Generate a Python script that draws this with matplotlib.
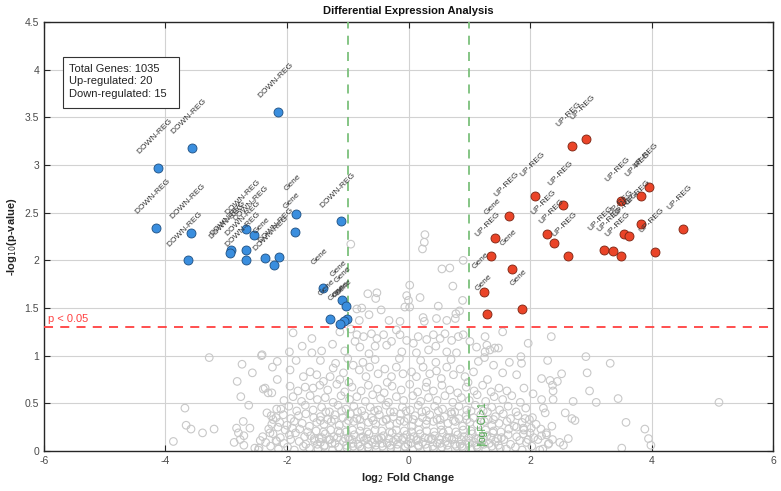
import matplotlib
matplotlib.use("Agg")
import matplotlib.pyplot as plt
from matplotlib.patches import Rectangle

plt.rcParams['font.family'] = ['Liberation Sans', 'DejaVu Sans']

# ---------------- data ----------------
# significant down-regulated (blue) points: (log2FC, -log10 p, label)
down_x = [-2.14, -3.57, -4.12, -4.16, -3.58, -1.85, -1.11, -1.87, -2.68, -2.54,
          -2.92, -2.94, -2.67, -3.63, -2.68, -2.37, -2.13, -2.21, -1.41, -1.10,
          -1.03, -1.30, -1.02, -1.06, -1.13]
down_y = [3.56, 3.18, 2.97, 2.34, 2.29, 2.49, 2.41, 2.30, 2.33, 2.27,
          2.11, 2.08, 2.11, 2.00, 2.00, 2.03, 2.04, 1.95, 1.71, 1.58,
          1.52, 1.38, 1.38, 1.36, 1.33]
down_labels = ["DOWN-REG", "DOWN-REG", "DOWN-REG", "DOWN-REG", "DOWN-REG", "Gene",
               "DOWN-REG", "Gene", "DOWN-REG", "DOWN-REG", "DOWN-REG", "DOWN-REG",
               "DOWN-REG", "DOWN-REG", "DOWN-REG", "Gene", "DOWN-REG", "DOWN-REG",
               "Gene", "Gene", "Gene", "Gene", "Gene", "Gene", "Gene"]

# significant up-regulated (red) points
up_x = [2.92, 2.69, 2.09, 3.96, 3.82, 2.55, 3.49, 1.66, 1.43, 1.35,
        2.28, 2.40, 2.63, 3.21, 3.36, 3.50, 3.55, 3.63, 3.82, 4.52,
        4.06, 1.70, 1.24, 1.29, 1.87]
up_y = [3.27, 3.20, 2.68, 2.77, 2.68, 2.58, 2.62, 2.47, 2.23, 2.05,
        2.28, 2.18, 2.05, 2.11, 2.10, 2.05, 2.28, 2.26, 2.38, 2.33,
        2.09, 1.91, 1.67, 1.44, 1.49]
up_labels = ["UP-REG", "UP-REG", "UP-REG", "UP-REG", "UP-REG", "UP-REG", "UP-REG",
             "UP-REG", "Gene", "UP-REG", "UP-REG", "UP-REG", "UP-REG", "UP-REG",
             "UP-REG", "UP-REG", "UP-REG", "UP-REG", "UP-REG", "UP-REG", "UP-REG",
             "Gene", "Gene", "Gene", "Gene"]

# non-significant genes (grey), by band
ns_high = [(0.27, 2.27), (0.26, 2.19), (0.23, 2.12), (-0.95, 2.17), (0.90, 2.00),
           (0.55, 1.91), (0.68, 1.92), (0.73, 1.73), (0.02, 1.74), (-0.67, 1.65),
           (-0.52, 1.66), (-0.54, 1.60), (-0.03, 1.63), (0.00, 1.58), (-0.06, 1.51),
           (0.02, 1.51), (0.49, 1.52), (0.89, 1.58), (0.84, 1.47), (0.78, 1.44),
           (-0.85, 1.49), (-0.77, 1.50), (-0.45, 1.48), (-0.65, 1.43), (-0.81, 1.37),
           (-0.32, 1.37), (0.24, 1.40), (0.26, 1.36), (0.46, 1.39), (0.63, 1.37),
           (-0.14, 1.36), (0.19, 1.61), (0.77, 1.39)]
ns_b = [(-2.41, 1.01), (-1.96, 1.04), (-1.90, 1.24), (-1.59, 1.18), (-1.59, 1.03),
        (-1.43, 1.05), (-1.13, 1.25), (-0.85, 1.22), (-0.74, 1.20), (-0.88, 1.15),
        (-0.80, 1.09), (-0.61, 1.23), (-0.52, 1.18), (-0.41, 1.22), (-0.55, 1.10),
        (-0.36, 1.11), (-0.28, 1.15), (-0.14, 1.22), (-0.03, 1.16), (0.08, 1.13),
        (0.16, 1.20), (0.30, 1.17), (0.41, 1.22), (0.52, 1.18), (0.60, 1.23),
        (0.71, 1.16), (0.82, 1.20), (0.90, 1.22), (-0.11, 1.04), (0.13, 1.03),
        (0.33, 1.06), (0.63, 1.04), (0.79, 1.03), (1.26, 1.20), (1.29, 1.11),
        (1.34, 1.06), (1.01, 1.15), (1.12, 1.09), (1.42, 1.08), (1.48, 1.08),
        (1.26, 1.04), (2.35, 1.20), (1.97, 1.13), (-1.25, 1.12), (-1.05, 1.05),
        (-0.95, 1.28), (-0.20, 1.27), (0.45, 1.10), (-0.65, 1.02), (1.55, 1.25),
        (-1.75, 1.10)]
ns_c = [(-3.28, 0.98), (-2.42, 1.00), (-2.74, 0.91), (-2.57, 0.82), (-2.82, 0.73),
        (-2.16, 0.94), (-2.24, 0.88), (-2.16, 0.75), (-1.73, 0.78), (-1.62, 0.83),
        (-1.51, 0.80), (-1.40, 0.73), (-1.29, 0.78), (-1.24, 0.87), (-1.13, 0.75),
        (-1.07, 0.82), (-0.91, 0.90), (-0.81, 0.85), (-0.70, 0.78), (-0.64, 0.88),
        (-0.50, 0.81), (-0.39, 0.86), (-0.28, 0.78), (-0.20, 0.88), (-0.09, 0.81),
        (0.05, 0.83), (0.13, 0.78), (0.24, 0.88), (0.35, 0.81), (0.46, 0.84),
        (0.54, 0.76), (0.63, 0.88), (0.74, 0.80), (0.85, 0.86), (0.93, 0.78),
        (1.07, 0.83), (-1.85, 0.95), (-1.45, 0.95), (-1.00, 0.97), (-0.55, 0.96),
        (-0.15, 0.97), (0.20, 0.95), (0.70, 0.96), (1.15, 0.94), (1.40, 0.90),
        (1.55, 0.82), (1.85, 0.99), (1.86, 0.92), (1.66, 0.93), (1.78, 0.80),
        (2.29, 0.95), (2.92, 0.99), (3.32, 0.92), (2.94, 0.82), (2.52, 0.81),
        (2.45, 0.73), (2.33, 0.74), (2.19, 0.76), (-1.95, 0.85), (-0.98, 0.72),
        (-0.35, 0.72), (0.30, 0.72), (0.98, 0.72), (1.30, 0.75), (-1.20, 0.92),
        (0.45, 0.93), (-0.75, 0.93), (1.25, 0.98)]
ns_d = [(-2.36, 0.66), (-2.25, 0.61), (-2.39, 0.65), (-2.31, 0.61), (-2.76, 0.57),
        (-2.63, 0.48), (-3.68, 0.45), (-2.33, 0.40), (-2.26, 0.37), (-2.17, 0.44),
        (-1.70, 0.67), (-1.57, 0.66), (2.37, 0.69), (2.38, 0.63), (2.98, 0.63),
        (3.09, 0.51), (3.45, 0.55), (5.11, 0.51), (2.05, 0.60), (2.19, 0.54),
        (2.38, 0.54), (2.25, 0.40), (2.22, 0.45), (2.71, 0.52), (2.58, 0.40),
        (-1.95, 0.68), (-1.82, 0.63), (-1.46, 0.69), (-1.33, 0.64), (-1.18, 0.70),
        (-1.05, 0.62), (-0.93, 0.67), (-0.78, 0.63), (-0.66, 0.69), (-0.51, 0.65),
        (-0.40, 0.61), (-0.27, 0.68), (-0.12, 0.64), (0.02, 0.70), (0.15, 0.62),
        (0.29, 0.67), (0.41, 0.63), (0.55, 0.69), (0.68, 0.64), (0.81, 0.61),
        (0.95, 0.67), (1.08, 0.63), (1.22, 0.69), (1.36, 0.62), (1.49, 0.66),
        (1.62, 0.63), (1.90, 0.66),
        (-2.05, 0.53), (-1.90, 0.57), (-1.76, 0.52), (-1.62, 0.58), (-1.50, 0.54),
        (-1.37, 0.56), (-1.24, 0.51), (-1.11, 0.58), (-0.97, 0.54), (-0.85, 0.57),
        (-0.71, 0.52), (-0.59, 0.59), (-0.46, 0.55), (-0.33, 0.51), (-0.20, 0.57),
        (-0.08, 0.53), (0.07, 0.58), (0.20, 0.52), (0.33, 0.56), (0.47, 0.53),
        (0.60, 0.58), (0.73, 0.51), (0.87, 0.56), (1.00, 0.53), (1.13, 0.59),
        (1.27, 0.52), (1.41, 0.57), (1.55, 0.54), (1.70, 0.58), (1.84, 0.51),
        (-2.10, 0.44), (-1.97, 0.47), (-1.84, 0.42), (-1.70, 0.48), (-1.57, 0.43),
        (-1.43, 0.46), (-1.30, 0.41), (-1.16, 0.48), (-1.03, 0.44), (-0.90, 0.47),
        (-0.77, 0.42), (-0.63, 0.46), (-0.50, 0.43), (-0.37, 0.48), (-0.24, 0.41),
        (-0.10, 0.46), (0.03, 0.43), (0.16, 0.48), (0.29, 0.42), (0.43, 0.47),
        (0.56, 0.44), (0.70, 0.41), (0.83, 0.47), (0.96, 0.43), (1.10, 0.48),
        (1.23, 0.42), (1.37, 0.46), (1.50, 0.43), (1.64, 0.47), (1.77, 0.41),
        (1.93, 0.45),
        (-1.36, 0.41), (-1.10, 0.42), (-0.84, 0.41), (-0.56, 0.42), (-0.30, 0.41),
        (-0.04, 0.42), (0.22, 0.41), (0.49, 0.42), (0.76, 0.41), (1.03, 0.42),
        (1.30, 0.41)]
ns_e = [(-3.66, 0.27), (-3.58, 0.23), (-3.39, 0.19), (-3.20, 0.23), (-3.87, 0.10),
        (-2.83, 0.24), (-2.80, 0.19), (-2.72, 0.31), (-2.61, 0.24), (-2.71, 0.16),
        (-2.87, 0.09), (-2.77, 0.12), (-2.71, 0.06), (-2.44, 0.11), (-2.53, 0.03),
        (-2.47, 0.01), (-2.23, 0.33), (-2.28, 0.19), (-2.17, 0.10),
        (2.69, 0.34), (2.74, 0.32), (3.58, 0.30), (3.89, 0.23), (3.99, 0.06),
        (3.51, 0.03), (2.36, 0.26), (2.27, 0.19), (2.37, 0.12), (2.49, 0.09),
        (2.63, 0.13), (2.55, 0.06), (2.19, 0.16), (2.30, 0.07), (2.16, 0.01),
        (2.00, 0.19), (1.99, 0.33), (1.92, 0.34), (1.89, 0.24), (1.97, 0.12),
        (3.95, 0.13),
        (-2.18, 0.35), (-2.06, 0.38), (-1.94, 0.34), (-1.81, 0.37), (-1.69, 0.39),
        (-1.56, 0.35), (-1.45, 0.36), (-1.33, 0.33), (-1.21, 0.38), (-1.08, 0.35),
        (-0.96, 0.39), (-0.85, 0.34), (-0.72, 0.37), (-0.61, 0.35), (-0.48, 0.38),
        (-0.37, 0.33), (-0.25, 0.36), (-0.13, 0.39), (-0.01, 0.34), (0.11, 0.37),
        (0.23, 0.35), (0.35, 0.38), (0.47, 0.33), (0.59, 0.36), (0.71, 0.39),
        (0.83, 0.34), (0.95, 0.37), (1.07, 0.35), (1.19, 0.38), (1.31, 0.33),
        (1.43, 0.36), (1.56, 0.39), (1.68, 0.34), (1.80, 0.37), (2.04, 0.35),
        (-2.25, 0.28), (-2.12, 0.30), (-2.00, 0.27), (-1.88, 0.31), (-1.75, 0.29),
        (-1.63, 0.26), (-1.51, 0.30), (-1.39, 0.28), (-1.27, 0.31), (-1.14, 0.27),
        (-1.02, 0.29), (-0.90, 0.31), (-0.78, 0.26), (-0.66, 0.30), (-0.54, 0.28),
        (-0.42, 0.31), (-0.31, 0.27), (-0.19, 0.29), (-0.07, 0.31), (0.05, 0.26),
        (0.17, 0.30), (0.29, 0.28), (0.41, 0.31), (0.53, 0.27), (0.65, 0.29),
        (0.77, 0.31), (0.89, 0.26), (1.01, 0.30), (1.13, 0.28), (1.25, 0.31),
        (1.37, 0.27), (1.49, 0.29), (1.62, 0.31), (1.74, 0.26), (1.87, 0.30),
        (2.10, 0.28),
        (-2.30, 0.23), (-2.15, 0.25), (-2.03, 0.22), (-1.91, 0.24), (-1.79, 0.23),
        (1.65, 0.23), (1.78, 0.25), (1.90, 0.22), (2.02, 0.24), (2.18, 0.23),
        (-1.45, 0.32), (-1.22, 0.33), (-0.99, 0.32), (-0.80, 0.33), (-0.58, 0.32),
        (-0.36, 0.33), (-0.14, 0.32), (0.08, 0.33), (0.30, 0.32), (0.52, 0.33),
        (0.74, 0.32), (0.96, 0.33), (1.18, 0.32), (1.40, 0.33)]
ns_f = [(-2.40, 0.15), (-2.23, 0.18), (-2.11, 0.14), (-1.96, 0.17), (-1.86, 0.19),
        (-1.71, 0.15), (-1.61, 0.16), (-1.47, 0.13), (-1.37, 0.18), (-1.23, 0.15),
        (-1.13, 0.19), (-0.99, 0.14), (-0.89, 0.17), (-0.75, 0.15), (-0.65, 0.18),
        (-0.51, 0.13), (-0.41, 0.16), (-0.27, 0.19), (-0.17, 0.14), (-0.03, 0.17),
        (0.09, 0.15), (0.19, 0.18), (0.33, 0.13), (0.43, 0.16), (0.57, 0.19),
        (0.67, 0.14), (0.81, 0.17), (0.91, 0.15), (1.05, 0.18), (1.15, 0.13),
        (1.29, 0.16), (1.39, 0.19), (1.53, 0.14), (1.64, 0.17), (1.78, 0.15),
        (1.89, 0.18), (2.06, 0.14), (2.27, 0.17),
        (-2.35, 0.09), (-2.18, 0.11), (-2.05, 0.08), (-1.94, 0.12), (-1.80, 0.10),
        (-1.69, 0.07), (-1.55, 0.11), (-1.45, 0.09), (-1.31, 0.12), (-1.21, 0.08),
        (-1.07, 0.10), (-0.97, 0.12), (-0.83, 0.07), (-0.73, 0.11), (-0.59, 0.09),
        (-0.49, 0.12), (-0.35, 0.08), (-0.25, 0.10), (-0.11, 0.12), (-0.01, 0.07),
        (0.13, 0.11), (0.23, 0.09), (0.37, 0.12), (0.47, 0.08), (0.61, 0.10),
        (0.71, 0.12), (0.85, 0.07), (0.95, 0.11), (1.09, 0.09), (1.19, 0.12),
        (1.33, 0.08), (1.43, 0.10), (1.57, 0.12), (1.68, 0.07), (1.83, 0.11),
        (1.94, 0.09), (2.13, 0.12), (2.31, 0.08),
        (-2.46, 0.03), (-2.27, 0.05), (-2.14, 0.02), (-1.99, 0.04), (-1.88, 0.01),
        (-1.73, 0.05), (-1.63, 0.03), (-1.49, 0.02), (-1.39, 0.05), (-1.25, 0.01),
        (-1.15, 0.04), (-1.01, 0.03), (-0.91, 0.05), (-0.77, 0.02), (-0.67, 0.04),
        (-0.53, 0.01), (-0.43, 0.05), (-0.29, 0.03), (-0.19, 0.02), (-0.05, 0.04),
        (0.07, 0.01), (0.17, 0.05), (0.31, 0.03), (0.41, 0.02), (0.55, 0.04),
        (0.65, 0.01), (0.79, 0.05), (0.89, 0.03), (1.03, 0.02), (1.13, 0.04),
        (1.27, 0.01), (1.37, 0.05), (1.51, 0.03), (1.61, 0.02), (1.76, 0.04),
        (1.87, 0.01), (2.03, 0.05), (2.21, 0.02),
        (-1.50, 0.07), (-1.38, 0.06), (-1.26, 0.08), (-1.02, 0.06), (-0.92, 0.08),
        (-0.80, 0.05), (-0.66, 0.07), (-0.54, 0.06), (-0.44, 0.08), (-0.30, 0.06),
        (-0.18, 0.07), (-0.06, 0.05), (0.04, 0.08), (0.16, 0.06), (0.28, 0.07),
        (0.40, 0.05), (0.52, 0.08), (0.64, 0.06), (0.76, 0.07), (0.88, 0.05),
        (1.00, 0.08), (1.12, 0.06), (1.24, 0.07), (1.48, 0.06),
        (-1.55, 0.13), (-1.43, 0.14), (-1.29, 0.12), (-1.17, 0.14), (-1.04, 0.13),
        (-0.93, 0.12), (-0.79, 0.14), (-0.69, 0.13), (-0.56, 0.12), (-0.45, 0.14),
        (-0.32, 0.13), (-0.21, 0.12), (-0.08, 0.14), (0.03, 0.13), (0.15, 0.12),
        (0.27, 0.14), (0.39, 0.13), (0.51, 0.12), (0.63, 0.14), (0.75, 0.13),
        (0.87, 0.12), (0.99, 0.14), (1.11, 0.13), (1.23, 0.12), (1.36, 0.14),
        (1.47, 0.13),
        (-1.66, 0.20), (-1.52, 0.21), (-1.40, 0.20), (-1.28, 0.22), (-1.16, 0.21),
        (-1.03, 0.20), (-0.92, 0.22), (-0.80, 0.21), (-0.68, 0.20), (-0.55, 0.22),
        (-0.44, 0.21), (-0.31, 0.20), (-0.20, 0.22), (-0.07, 0.21), (0.05, 0.20),
        (0.17, 0.22), (0.30, 0.21), (0.42, 0.20), (0.54, 0.22), (0.66, 0.21),
        (0.78, 0.20), (0.90, 0.22), (1.03, 0.21), (1.15, 0.20), (1.27, 0.22),
        (1.40, 0.21), (1.52, 0.20)]

stats_text = "Total Genes: 1035\nUp-regulated: 20\nDown-regulated: 15"
x_ticks = [-6, -4, -2, 0, 2, 4, 6]
y_ticks = [0, 0.5, 1, 1.5, 2, 2.5, 3, 3.5, 4, 4.5]
y_tick_labels = ['0', '0.5', '1', '1.5', '2', '2.5', '3', '3.5', '4', '4.5']
p_thresh = 1.301
fc_thresh = 1.0

# ---------------- figure ----------------
fig = plt.figure(figsize=(7.81, 4.91), dpi=100)
ax = fig.add_axes([0.0563, 0.0815, 0.9335, 0.8735])

ns_all = ns_high + ns_b + ns_c + ns_d + ns_e + ns_f
ax.scatter([p[0] for p in ns_all], [p[1] for p in ns_all], s=30,
           facecolors='none', edgecolors='#c8c8c8', linewidths=0.8, zorder=2)

ax.axhline(p_thresh, color='#ff4040', lw=1.3, ls=(0, (5, 4)), zorder=3)
ax.axvline(-fc_thresh, color='#7cc07c', lw=1.3, ls=(0, (5, 4)), zorder=3)
ax.axvline(fc_thresh, color='#7cc07c', lw=1.3, ls=(0, (5, 4)), zorder=3)

ax.scatter(down_x, down_y, s=42, c='#3a8ede', edgecolors='#1f4f80',
           linewidths=0.6, zorder=4)
ax.scatter(up_x, up_y, s=42, c='#ea4428', edgecolors='#7a2412',
           linewidths=0.6, zorder=4)

for x, y, lab in zip(down_x, down_y, down_labels):
    ax.text(x - 0.05, y + 0.33, lab, rotation=45, ha='center', va='center',
            fontsize=6, color='#333333', zorder=5)
for x, y, lab in zip(up_x, up_y, up_labels):
    ax.text(x - 0.05, y + 0.33, lab, rotation=45, ha='center', va='center',
            fontsize=6, color='#333333', zorder=5)

ax.text(-5.93, p_thresh + 0.03, "p < 0.05", color='#ff4040', fontsize=8,
        ha='left', va='bottom', zorder=5)
ax.text(1.13, 0.05, "|logFC|>1", color='#4fa84f', fontsize=7.5,
        rotation=90, ha='left', va='bottom', zorder=5)

# statistics box
ax.add_patch(Rectangle((-5.68, 3.596), 1.90, 0.535, facecolor='white',
                       edgecolor='#333333', linewidth=0.8, zorder=6))
ax.text(-5.58, 4.06, stats_text, fontsize=8, color='#222222',
        ha='left', va='top', linespacing=1.3, zorder=7)

ax.set_xlim(-6, 6)
ax.set_ylim(0, 4.5)
ax.set_xticks(x_ticks)
ax.set_yticks(y_ticks)
ax.set_xticklabels([str(t) for t in x_ticks])
ax.set_yticklabels(y_tick_labels)
ax.grid(True, color='#d2d2d2', lw=0.8, zorder=0)
ax.set_axisbelow(True)
ax.tick_params(direction='in', top=True, right=True, length=4, width=0.8,
               labelsize=7.5, labelcolor='#4a4a4a', color='#262626')
for sp in ax.spines.values():
    sp.set_color('#262626')
    sp.set_linewidth(1.0)

ax.set_title("Differential Expression Analysis", fontsize=8, fontweight='bold',
             color='#111111', pad=6)
ax.set_xlabel(r"log$_2$ Fold Change", fontsize=8, fontweight='bold',
              color='#222222', labelpad=4)
ax.set_ylabel(r"-log$_{10}$(p-value)", fontsize=8, fontweight='bold',
              color='#222222', labelpad=4)

fig.savefig("out.png", dpi=100)
